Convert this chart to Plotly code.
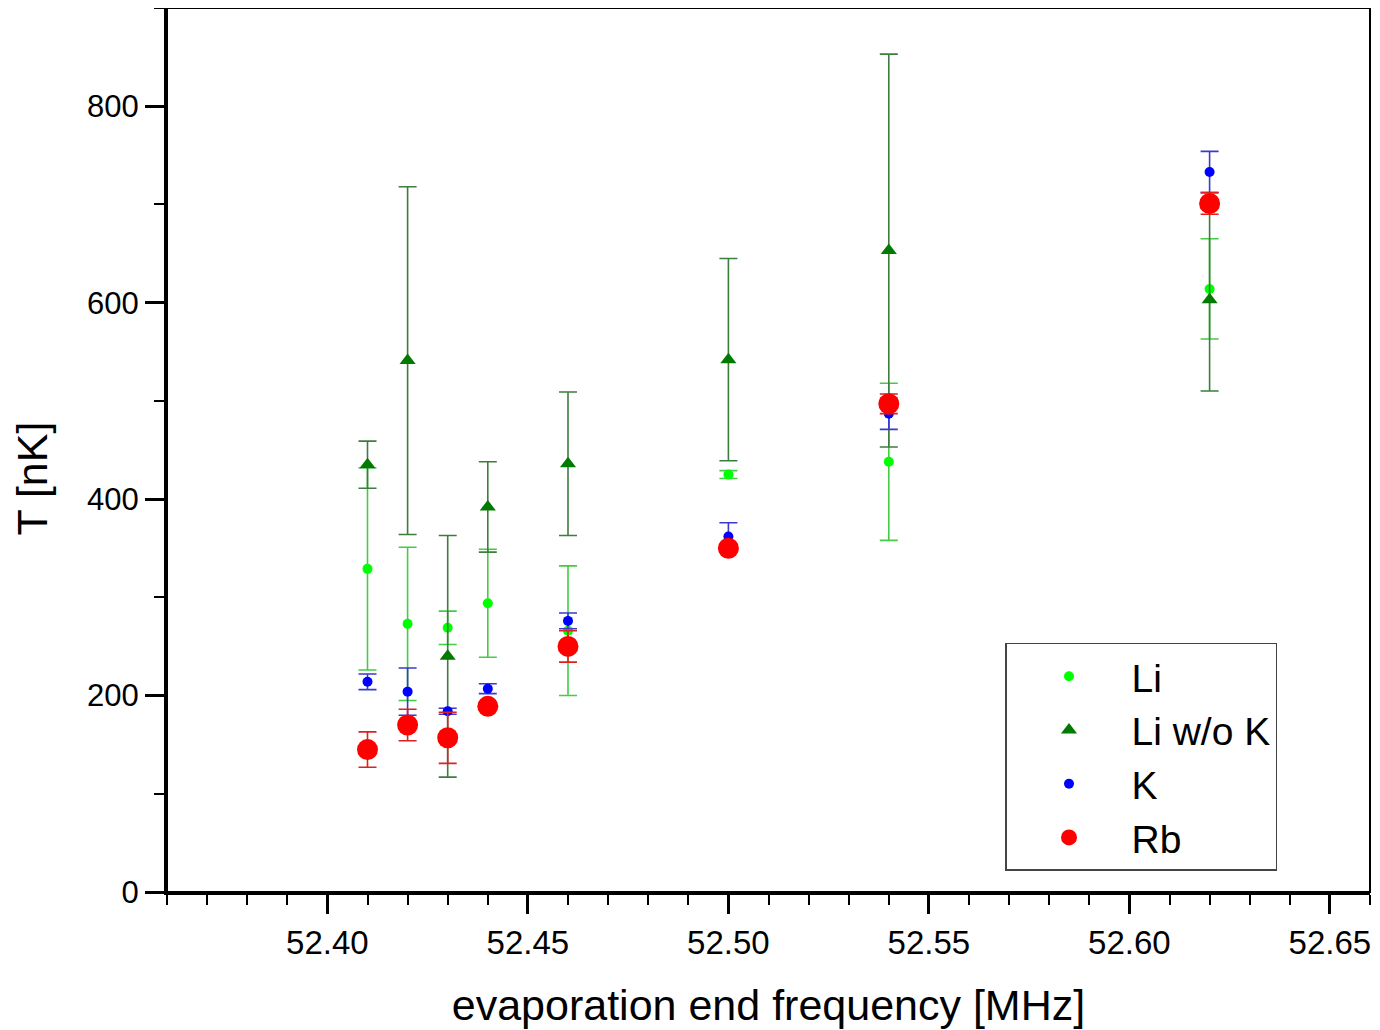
import plotly.graph_objects as go

# evaporation end frequency [MHz]
freq = [52.41, 52.42, 52.43, 52.44, 52.46, 52.50, 52.54, 52.62]

# temperatures [nK] and their error bars
li = [329, 273, 269, 294, 266, 425, 438, 614]
li_err = [103, 78, 17, 55, 66, 4, 80, 51]

li_wo_k = [435, 541, 240, 392, 436, 542, 653, 603]
li_wo_k_err = [24, 177, 123, 46, 73, 103, 200, 93]

k = [214, 204, 184, 207, 276, 362, 487, 733]
k_err = [8, 24, 3, 5, 8, 14, 16, 21]

rb = [145, 170, 157, 189, 250, 350, 497, 701]
rb_err = [18, 16, 26, 4, 16, 4, 10, 11]

series = [
    # name, values, errors, symbol, size, marker colour, error colour
    ("Li", li, li_err, "circle", 10, "#00ff00", "#44cc44"),
    ("Li w/o K", li_wo_k, li_wo_k_err, "triangle-up", 14, "#007a00", "#3d7d3d"),
    ("K", k, k_err, "circle", 10, "#0000ff", "#3a3acc"),
    ("Rb", rb, rb_err, "circle", 21, "#ff0000", "#dd2020"),
]

fig = go.Figure()
for name, vals, errs, symbol, size, color, ecolor in series:
    fig.add_trace(go.Scatter(
        x=freq, y=vals, name=name, mode="markers",
        marker=dict(symbol=symbol, size=size, color=color, line=dict(width=0)),
        error_y=dict(type="data", array=errs, visible=True,
                     color=ecolor, thickness=1.6, width=9),
    ))

axis_font = dict(family="Arial", size=43, color="black")

# the page body adds an 8px margin, so the figure margins are trimmed by that
fig.update_layout(
    width=1380, height=1030,
    margin=dict(l=159, r=18, t=0, b=146),
    paper_bgcolor="white", plot_bgcolor="white",
    font=dict(family="Arial", color="black"),
    showlegend=True,
    legend=dict(
        x=0.6966, y=0.2817, xanchor="left", yanchor="top",
        bgcolor="white", bordercolor="#444444", borderwidth=1.5,
        font=dict(family="Arial", size=39, color="black"),
        itemwidth=115, tracegroupgap=0, entrywidth=160,
    ),
    shapes=[dict(type="rect", xref="paper", yref="paper", x0=0, y0=0, x1=1, y1=1,
                 line=dict(color="black", width=2), layer="above")],
    annotations=[dict(text="T [nK]", textangle=-90, font=axis_font,
                      xref="paper", yref="paper", x=-0.112, y=0.468,
                      xanchor="center", yanchor="middle", showarrow=False)],
)

fig.update_xaxes(
    range=[52.36, 52.66], dtick=0.05, tick0=52.40, tickformat=".2f",
    showgrid=False, zeroline=False,
    showline=True, linecolor="black", linewidth=3,
    ticks="outside", ticklen=19, tickwidth=2.5, tickcolor="black",
    minor=dict(dtick=0.01, tick0=52.36, ticks="outside", ticklen=10, tickwidth=2, tickcolor="black"),
    tickfont=dict(family="Arial", size=33, color="black"),
    title=dict(text="evaporation end frequency [MHz]", font=axis_font, standoff=31),
)

fig.update_yaxes(
    range=[0, 900], dtick=200, tick0=0,
    showgrid=False, zeroline=False,
    showline=True, linecolor="black", linewidth=3,
    ticks="outside", ticklen=19, tickwidth=2.5, tickcolor="black",
    minor=dict(dtick=100, ticks="outside", ticklen=10, tickwidth=2, tickcolor="black"),
    tickfont=dict(family="Arial", size=31, color="black"),
)

fig.write_html("out.html")
